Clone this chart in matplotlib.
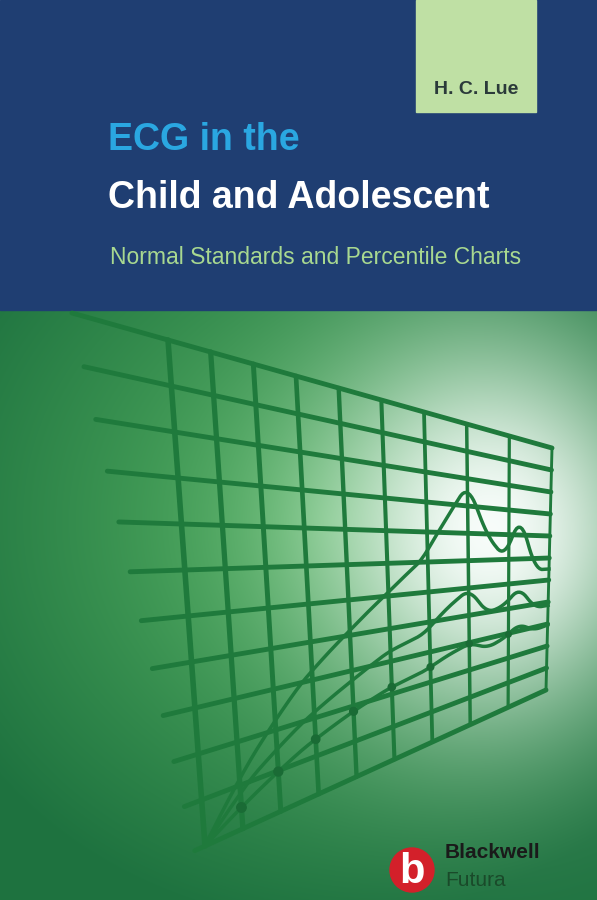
import numpy as np
import matplotlib
matplotlib.use("Agg")
import matplotlib.pyplot as plt
from matplotlib.patches import Rectangle, Circle

author = "H. C. Lue"
title1 = "ECG in the"
title2 = "Child and Adolescent"
subtitle = "Normal Standards and Percentile Charts"
publisher = ["Blackwell", "Futura"]

n_cols = 9
n_rows = 11
curve_u = [0.0, 0.15, 0.3, 0.45, 0.55, 0.65, 0.72, 0.78, 0.83, 0.88, 0.92, 0.96, 1.0]
curve_top = [0.0, 0.14, 0.27, 0.38, 0.46, 0.55, 0.68, 0.8, 0.63, 0.55, 0.72, 0.5, 0.5]
curve_mid = [0.0, 0.1, 0.18, 0.25, 0.3, 0.33, 0.4, 0.45, 0.36, 0.38, 0.44, 0.35, 0.35]
curve_low = [0.0, 0.06, 0.12, 0.17, 0.2, 0.22, 0.25, 0.27, 0.24, 0.26, 0.3, 0.26, 0.27]

W, H = 597, 900
fig = plt.figure(figsize=(W/100, H/100), dpi=100)
ax = fig.add_axes([0, 0, 1, 1])
ax.set_xlim(0, W); ax.set_ylim(H, 0); ax.axis("off")

yy, xx = np.mgrid[310:900, 0:W]
d = np.sqrt(((xx-490)/170.0)**2 + ((yy-530)/190.0)**2)
glow = np.exp(-d**2)
edge = np.clip(np.sqrt(((xx-330)/430.0)**2 + ((yy-520)/400.0)**2), 0, 1)
base = np.array([0.33, 0.70, 0.38])
dark = np.array([0.12, 0.45, 0.25])
col = base[None, None, :]*(1-edge[..., None]) + dark[None, None, :]*edge[..., None]
col = col*(1-glow[..., None]) + np.array([0.97, 0.99, 0.98])*glow[..., None]
ax.imshow(col, extent=[0, W, 900, 310], zorder=0, aspect="auto")

ax.add_patch(Rectangle((0, 0), W, 310, color="#1f3e72", zorder=1))
ax.add_patch(Rectangle((416, 0), 120, 112, color="#bfe0a4", zorder=2))
fam = "Liberation Sans"
ax.text(476, 90, author, ha="center", va="center", fontsize=14, fontweight="bold",
        color="#2b3a3a", family=fam, zorder=3)
ax.text(108, 140, title1, ha="left", va="center", fontsize=27, fontweight="bold",
        color="#2aa7e1", family=fam, zorder=3)
ax.text(108, 198, title2, ha="left", va="center", fontsize=27, fontweight="bold",
        color="white", family=fam, zorder=3)
ax.text(110, 258, subtitle, ha="left", va="center", fontsize=16.5,
        color="#a8d890", family=fam, zorder=3)

TL, TR, BR, BL = np.array([168, 340]), np.array([552, 448]), np.array([546, 690]), np.array([205, 846])
def P(u, v):
    top = TL + (TR-TL)*u
    bot = BL + (BR-BL)*u
    return bot + (top-bot)*v

gcol = "#1f7a3c"
for i in range(n_cols+1):
    u = i/n_cols
    p0, p1 = P(u, 0), P(u, 1)
    ax.plot([p0[0], p1[0]], [p0[1], p1[1]], color=gcol, lw=3.2*(1-0.6*u)+0.8, zorder=4, solid_capstyle="round")
for j in range(n_rows+1):
    v = j/n_rows
    p0, p1 = P(-0.03-0.22*v, v), P(1, v)
    ax.plot([p0[0], p1[0]], [p0[1], p1[1]], color=gcol, lw=3.5, zorder=4, solid_capstyle="round")

for c in (curve_top, curve_mid, curve_low):
    us = np.array(curve_u); vs = np.array(c)
    uf = np.linspace(0, 1, 200)
    vf = np.interp(uf, us, vs)
    k = np.ones(9)/9
    vf = np.convolve(np.pad(vf, 4, mode="edge"), k, mode="valid")
    pts = np.array([P(a, b) for a, b in zip(uf, vf)])
    ax.plot(pts[:, 0], pts[:, 1], color=gcol, lw=2.5, zorder=5)
for i in range(1, n_cols):
    u = i/n_cols
    v = np.interp(u, curve_u, curve_low)
    p = P(u, v)
    ax.add_patch(Circle(p, 5*(1-0.5*u), color="#1a6b35", zorder=6))

ax.add_patch(Circle((412, 870), 22, color="#d3202a", zorder=7))
ax.text(412, 872, "b", ha="center", va="center", fontsize=30, fontweight="bold",
        color="white", family="Liberation Sans", zorder=8)
ax.text(445, 852, publisher[0], ha="left", va="center", fontsize=15, fontweight="bold",
        color="#1a1a1a", family="Liberation Sans", zorder=8)
ax.text(445, 880, publisher[1], ha="left", va="center", fontsize=15,
        color="#1a4a2a", family="Liberation Sans", zorder=8)

fig.savefig("out.png", dpi=100)
